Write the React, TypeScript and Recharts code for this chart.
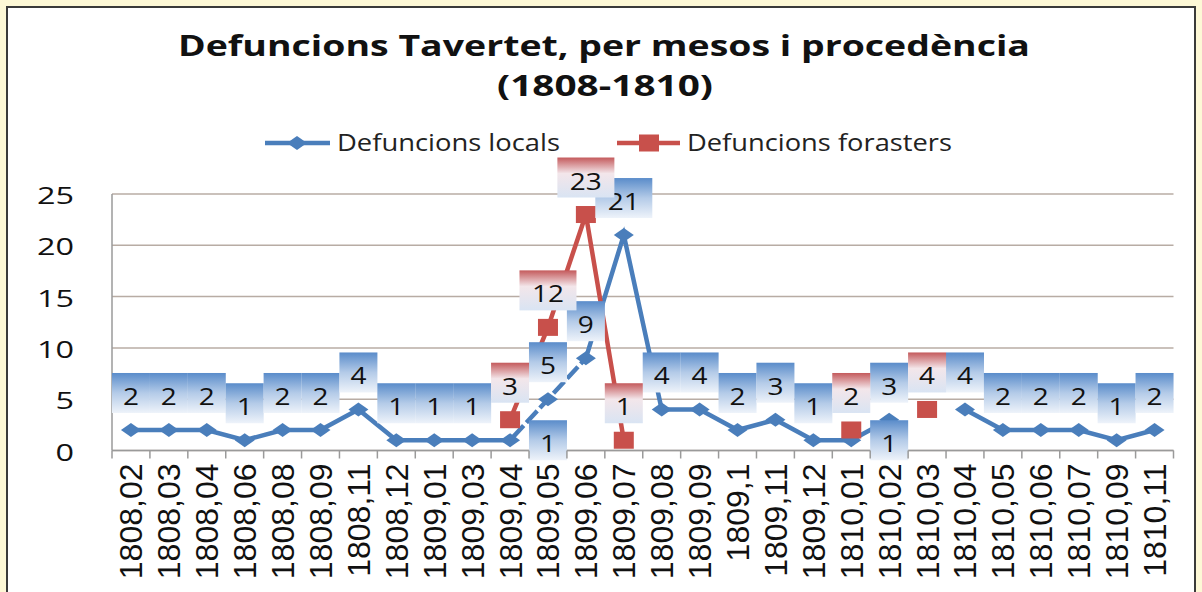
import { LineChart, Line, XAxis, YAxis, CartesianGrid } from 'recharts';

// Month labels (year,month) as written on the original chart
const months = [
  '1808,02', '1808,03', '1808,04', '1808,06', '1808,08', '1808,09', '1808,11', '1808,12',
  '1809,01', '1809,03', '1809,04', '1809,05', '1809,06', '1809,07', '1809,08', '1809,09',
  '1809,1', '1809,11', '1809,12', '1810,01', '1810,02', '1810,03', '1810,04', '1810,05',
  '1810,06', '1810,07', '1810,09', '1810,11',
];

// Defuncions locals (blue)
const locals = [2, 2, 2, 1, 2, 2, 4, 1, 1, 1, 1, 5, 9, 21, 4, 4, 2, 3, 1, 1, 3, null, 4, 2, 2, 2, 1, 2];

// Defuncions forasters (red)
const forasters = [
  null, null, null, null, null, null, null, null, null, null, 3, 12, 23, 1,
  null, null, null, null, null, 2, null, 4, null, null, null, null, null, null,
];

const yTicks = [0, 5, 10, 15, 20, 25];

// the stretch of the blue line that is drawn dashed
const dashedMonths = ['1809,04', '1809,05', '1809,06'];
// months whose local label was pushed below the line, one slot to the right
const shiftedLocalLabels = ['1809,04', '1810,01'];

const BLUE = '#4a7ebb';
const RED = '#c8504b';
const GRID = '#b8aca4';
const AXIS = '#9a9a9a';
const CREAM = '#fdf8d6';

const PLOT_LEFT = 112;
const PLOT_RIGHT = 1173.5;
const STEP = (PLOT_RIGHT - PLOT_LEFT) / months.length;

const data = months.map((month, i) => ({
  month,
  locals: locals[i],
  forasters: forasters[i],
  dashed: dashedMonths.includes(month) ? locals[i] : null,
}));

const Diamond = (props: any) => {
  const { cx, cy, index } = props;
  if (cx == null || cy == null || props.value == null) return <g key={`dm-${index}`} />;
  return (
    <polygon
      key={`dm-${index}`}
      points={`${cx - 10},${cy} ${cx},${cy - 7} ${cx + 10},${cy} ${cx},${cy + 7}`}
      fill={BLUE}
    />
  );
};

const Square = (props: any) => {
  const { cx, cy, index } = props;
  if (cx == null || cy == null || props.value == null) return <g key={`sq-${index}`} />;
  return <rect key={`sq-${index}`} x={cx - 10} y={cy - 8.5} width={20} height={17} fill={RED} />;
};

const makeLabel = (series: 'locals' | 'forasters') => (props: any) => {
  const { cx, cy, index, payload } = props;
  const value = payload ? payload[series] : null;
  if (value == null || cx == null || cy == null) return <g key={`${series}-lb-${index}`} />;
  let x = cx;
  let top = cy - 57;
  if (series === 'locals' && shiftedLocalLabels.includes(payload.month)) {
    x = cx + STEP;
    top = cy - 20;
  }
  const text = String(value);
  const w = 19 + 19 * text.length;
  return (
    <g key={`${series}-lb-${index}`}>
      <rect x={x - w / 2} y={top} width={w} height={40} fill={`url(#box-${series})`} />
      <text
        x={x}
        y={top + 32}
        textAnchor="middle"
        fontFamily="Open Sans"
        fontSize={23}
        textLength={text.length * 16}
        lengthAdjust="spacingAndGlyphs"
        fill="#111"
      >
        {text}
      </text>
    </g>
  );
};

const XTick = (props: any) => {
  const { x, y, payload, index } = props;
  return (
    <g>
      <line x1={x - STEP / 2} x2={x - STEP / 2} y1={y} y2={y + 8} stroke={AXIS} strokeWidth={1.5} />
      {index === months.length - 1 && (
        <line x1={x + STEP / 2} x2={x + STEP / 2} y1={y} y2={y + 8} stroke={AXIS} strokeWidth={1.5} />
      )}
      <text
        transform={`translate(${x + 11.5}, ${y + 13}) rotate(-90)`}
        textAnchor="end"
        fontFamily="Liberation Sans"
        fontSize={32}
        fill="#111"
      >
        {payload.value}
      </text>
    </g>
  );
};

const YTick = (props: any) => {
  const { y, payload } = props;
  return (
    <text
      transform={`translate(74, ${y + 10}) scale(1.35, 1)`}
      textAnchor="end"
      fontFamily="Open Sans"
      fontSize={24}
      fill="#111"
    >
      {payload.value}
    </text>
  );
};

const App = () => {
  return (
    <div style={{ position: 'absolute', left: 0, top: 0, width: 1202, height: 592, background: CREAM, overflow: 'hidden' }}>
      <div
        style={{
          position: 'absolute',
          left: 6,
          top: 6,
          width: 1190,
          height: 620,
          background: '#fff',
          border: '2px solid #3a3a3a',
          boxSizing: 'border-box',
        }}
      />
      <div style={{ position: 'absolute', left: 0, top: 0 }}>
        <LineChart width={1202} height={592} data={data} margin={{ top: 194, right: 1202 - PLOT_RIGHT, bottom: 0, left: 0 }}>
          <CartesianGrid vertical={false} stroke={GRID} strokeWidth={1.5} />
          <XAxis
            dataKey="month"
            interval={0}
            height={141.5}
            padding={{ left: STEP / 2, right: STEP / 2 }}
            tickLine={false}
            tickSize={0}
            tickMargin={0}
            axisLine={{ stroke: AXIS, strokeWidth: 1.5 }}
            tick={<XTick />}
          />
          <YAxis
            domain={[0, 25]}
            ticks={yTicks}
            width={PLOT_LEFT}
            tickLine={false}
            axisLine={{ stroke: AXIS, strokeWidth: 1.5 }}
            tick={<YTick />}
          />
          <Line dataKey="locals" stroke={BLUE} strokeWidth={4.5} dot={false} activeDot={false} isAnimationActive={false} />
          <Line
            dataKey="dashed"
            stroke="#fff"
            strokeWidth={6}
            strokeDasharray="4 16"
            dot={false}
            activeDot={false}
            isAnimationActive={false}
          />
          <Line dataKey="locals" stroke="none" dot={<Diamond />} activeDot={false} isAnimationActive={false} />
          <Line dataKey="forasters" stroke={RED} strokeWidth={4.5} dot={<Square />} activeDot={false} isAnimationActive={false} />
          <Line dataKey="locals" stroke="none" dot={makeLabel('locals')} activeDot={false} isAnimationActive={false} />
          <Line dataKey="forasters" stroke="none" dot={makeLabel('forasters')} activeDot={false} isAnimationActive={false} />
        </LineChart>
      </div>
      <svg width={1202} height={592} style={{ position: 'absolute', left: 0, top: 0, pointerEvents: 'none' }}>
        <defs>
          <linearGradient id="box-locals" x1="0" y1="0" x2="0" y2="1">
            <stop offset="0" stopColor="#5a8cca" />
            <stop offset="0.5" stopColor="#b4cbe8" />
            <stop offset="1" stopColor="#eef3fa" />
          </linearGradient>
          <linearGradient id="box-forasters" x1="0" y1="0" x2="0" y2="1">
            <stop offset="0" stopColor="#c45a5c" />
            <stop offset="0.4" stopColor="#f3e6ea" />
            <stop offset="1" stopColor="#d9e4f3" />
          </linearGradient>
        </defs>
        <text x={604} y={56} textAnchor="middle" fontFamily="Open Sans" fontWeight="bold" fontSize={29} textLength={852} lengthAdjust="spacingAndGlyphs" fill="#111">
          Defuncions Tavertet, per mesos i procedència
        </text>
        <text x={605} y={96} textAnchor="middle" fontFamily="Open Sans" fontWeight="bold" fontSize={29} textLength={216} lengthAdjust="spacingAndGlyphs" fill="#111">
          (1808-1810)
        </text>
        <line x1={265} x2={330} y1={143} y2={143} stroke={BLUE} strokeWidth={4.5} />
        <polygon points="287,143 297,136 307,143 297,150" fill={BLUE} />
        <text x={337} y={151} fontFamily="Open Sans" fontSize={23} textLength={223} lengthAdjust="spacingAndGlyphs" fill="#222">
          Defuncions locals
        </text>
        <line x1={617} x2={680} y1={143} y2={143} stroke={RED} strokeWidth={4.5} />
        <rect x={639} y={134.5} width={20} height={17} fill={RED} />
        <text x={687} y={151} fontFamily="Open Sans" fontSize={23} textLength={265} lengthAdjust="spacingAndGlyphs" fill="#222">
          Defuncions forasters
        </text>
      </svg>
    </div>
  );
};

export default App;
